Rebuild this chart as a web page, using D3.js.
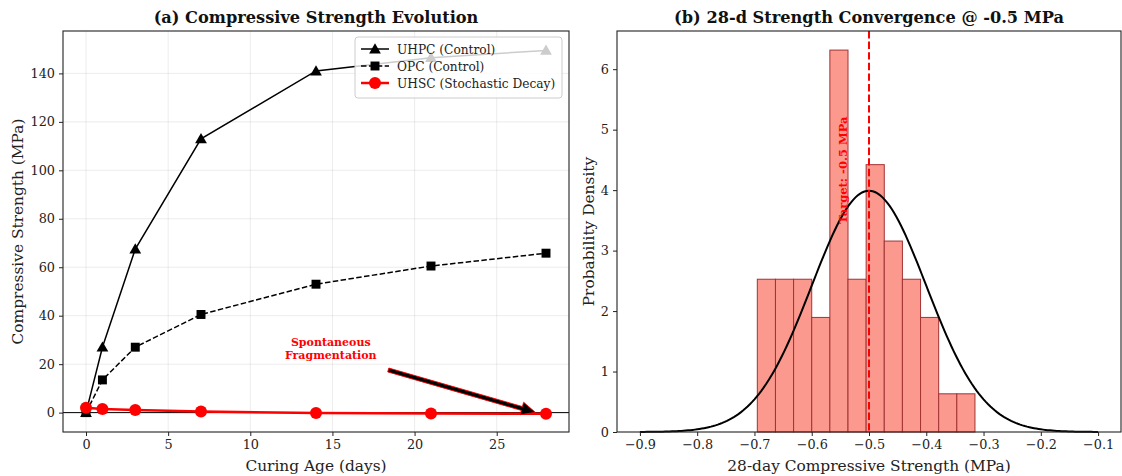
<!DOCTYPE html>
<html>
<head>
<meta charset="utf-8">
<script src="https://cdn.jsdelivr.net/npm/d3@7"></script>
<style>
  body { margin: 0; background: #fff; }
  svg { font-family: "DejaVu Serif", serif; }
</style>
</head>
<body>
<svg id="chart" width="1122" height="476"></svg>
<script>
// ---- data ----
const days = [0, 1, 3, 7, 14, 21, 28]
const uhpc = [0, 27, 67.5, 113, 141, 146.5, 149.5]
const opc = [0, 13.5, 27, 40.5, 53, 60.5, 65.8]
const uhsc = [2.0, 1.5, 1.1, 0.5, -0.2, -0.4, -0.5]

const histLow = -0.695
const histHigh = -0.315
const histCounts = [4, 4, 4, 3, 10, 4, 7, 5, 4, 3, 1, 1]
const fitMean = -0.5
const fitSd = 0.1
const targetValue = -0.5

const leftXTicks = [0, 5, 10, 15, 20, 25]
const leftYTicks = [0, 20, 40, 60, 80, 100, 120, 140]
const rightXTicks = [-0.9, -0.8, -0.7, -0.6, -0.5, -0.4, -0.3, -0.2, -0.1]
const rightYTicks = [0, 1, 2, 3, 4, 5, 6]

const svg = d3.select('#chart')
const tickFont = 12.8
const labelFont = 15.4
const titleFont = 16.2

function frame(g, x0, y0, w, h) {
  g.append('rect')
    .attr('x', x0).attr('y', y0).attr('width', w).attr('height', h)
    .attr('fill', 'none').attr('stroke', '#222').attr('stroke-width', 1.1)
}

function axes(g, x, y, xTicks, yTicks, xFmt, yFmt, x0, y0, w, h) {
  g.append('g')
    .attr('transform', `translate(0,${y0 + h})`)
    .call(d3.axisBottom(x).tickValues(xTicks).tickFormat(xFmt).tickSize(4).tickPadding(4))
    .call(s => s.select('.domain').remove())
    .call(s => s.selectAll('text').attr('font-size', tickFont).attr('fill', '#222').attr('font-family', 'DejaVu Serif'))
    .call(s => s.selectAll('line').attr('stroke', '#222'))
  g.append('g')
    .attr('transform', `translate(${x0},0)`)
    .call(d3.axisLeft(y).tickValues(yTicks).tickFormat(yFmt).tickSize(4).tickPadding(4))
    .call(s => s.select('.domain').remove())
    .call(s => s.selectAll('text').attr('font-size', tickFont).attr('fill', '#222').attr('font-family', 'DejaVu Serif'))
    .call(s => s.selectAll('line').attr('stroke', '#222'))
}

const minus = v => d3.format('.1f')(v).replace('-', '\u2212')

// ================= (a) left panel =================
{
  const x0 = 63, y0 = 31, w = 506, h = 401
  const x = d3.scaleLinear().domain([-1.4, 29.4]).range([x0, x0 + w])
  const y = d3.scaleLinear().domain([-8, 157.5]).range([y0 + h, y0])
  const g = svg.append('g')

  // grid
  g.append('g').selectAll('line').data(leftXTicks).join('line')
    .attr('x1', d => x(d)).attr('x2', d => x(d)).attr('y1', y0).attr('y2', y0 + h)
    .attr('stroke', '#b0b0b0').attr('stroke-opacity', 0.3).attr('stroke-width', 0.8)
  g.append('g').selectAll('line').data(leftYTicks).join('line')
    .attr('y1', d => y(d)).attr('y2', d => y(d)).attr('x1', x0).attr('x2', x0 + w)
    .attr('stroke', '#b0b0b0').attr('stroke-opacity', 0.3).attr('stroke-width', 0.8)

  // zero line
  g.append('line').attr('x1', x0).attr('x2', x0 + w).attr('y1', y(0)).attr('y2', y(0))
    .attr('stroke', '#000').attr('stroke-width', 1)

  const line = d3.line().x(d => x(d[0])).y(d => y(d[1]))
  const tri = d3.symbol().type(d3.symbolTriangle).size(60)
  const sq = d3.symbol().type(d3.symbolSquare).size(80)

  // UHPC
  g.append('path').attr('d', line(d3.zip(days, uhpc)))
    .attr('fill', 'none').attr('stroke', '#000').attr('stroke-width', 1.5)
  g.append('g').selectAll('path').data(d3.zip(days, uhpc)).join('path')
    .attr('d', tri).attr('transform', d => `translate(${x(d[0])},${y(d[1]) + 1})`)
    .attr('fill', '#000')

  // OPC
  g.append('path').attr('d', line(d3.zip(days, opc)))
    .attr('fill', 'none').attr('stroke', '#000').attr('stroke-width', 1.5)
    .attr('stroke-dasharray', '5.5,2.4')
  g.append('g').selectAll('path').data(d3.zip(days, opc)).join('path')
    .attr('d', sq).attr('transform', d => `translate(${x(d[0])},${y(d[1])})`)
    .attr('fill', '#000')

  // UHSC
  g.append('path').attr('d', line(d3.zip(days, uhsc)))
    .attr('fill', 'none').attr('stroke', '#ff0000').attr('stroke-width', 2.5)
  g.append('g').selectAll('circle').data(d3.zip(days, uhsc)).join('circle')
    .attr('cx', d => x(d[0])).attr('cy', d => y(d[1])).attr('r', 6)
    .attr('fill', '#ff0000')

  // annotation
  const ann = g.append('text').attr('x', x(14.9)).attr('y', y(27.5))
    .attr('text-anchor', 'middle').attr('font-size', 11).attr('font-weight', 'bold')
    .attr('fill', '#ff0000')
  ann.append('tspan').attr('x', x(14.9)).attr('dy', 0).text('Spontaneous')
  ann.append('tspan').attr('x', x(14.9)).attr('dy', 13).text('Fragmentation')

  const ax1 = x(18.4), ay1 = y(17.6), ax2 = x(27.35), ay2 = y(0.1)
  const ang = Math.atan2(ay2 - ay1, ax2 - ax1)
  const len = Math.hypot(ax2 - ax1, ay2 - ay1)
  const hl = 14, hw = 6.5, sw = 2
  const arrow = g.append('g').attr('transform', `translate(${ax1},${ay1}) rotate(${ang * 180 / Math.PI})`)
  arrow.append('path')
    .attr('d', `M0,${-sw} L${len - hl},${-sw} L${len - hl},${-hw} L${len},0 L${len - hl},${hw} L${len - hl},${sw} L0,${sw} Z`)
    .attr('fill', '#000').attr('stroke', '#ff0000').attr('stroke-width', 0.8)

  // legend
  const lg = g.append('g').attr('transform', 'translate(355,37)')
  lg.append('rect').attr('width', 207).attr('height', 61).attr('rx', 3)
    .attr('fill', '#fff').attr('fill-opacity', 0.8).attr('stroke', '#ccc').attr('stroke-width', 1)
  const items = [
    { label: 'UHPC (Control)', color: '#000', dash: null, sym: 'tri', lw: 1.5 },
    { label: 'OPC (Control)', color: '#000', dash: '5.5,2.4', sym: 'sq', lw: 1.5 },
    { label: 'UHSC (Stochastic Decay)', color: '#ff0000', dash: null, sym: 'circle', lw: 2.5 }
  ]
  items.forEach((it, i) => {
    const yy = 12 + i * 17
    lg.append('line').attr('x1', 6).attr('x2', 34).attr('y1', yy).attr('y2', yy)
      .attr('stroke', it.color).attr('stroke-width', it.lw)
      .attr('stroke-dasharray', it.dash)
    if (it.sym === 'circle') {
      lg.append('circle').attr('cx', 20).attr('cy', yy).attr('r', 6).attr('fill', it.color)
    } else {
      lg.append('path').attr('d', it.sym === 'tri' ? tri() : sq())
        .attr('transform', `translate(20,${yy + (it.sym === 'tri' ? 1 : 0)})`).attr('fill', it.color)
    }
    lg.append('text').attr('x', 42).attr('y', yy + 4.5).attr('font-size', 12.2)
      .attr('fill', '#222').text(it.label)
  })

  frame(g, x0, y0, w, h)
  axes(g, x, y, leftXTicks, leftYTicks, d3.format('d'), d3.format('d'), x0, y0, w, h)

  g.append('text').attr('x', x0 + w / 2).attr('y', 23).attr('text-anchor', 'middle')
    .attr('font-size', titleFont).attr('font-weight', 'bold').attr('fill', '#111')
    .text('(a) Compressive Strength Evolution')
  g.append('text').attr('x', x0 + w / 2).attr('y', 471).attr('text-anchor', 'middle')
    .attr('font-size', labelFont).attr('fill', '#222').text('Curing Age (days)')
  g.append('text').attr('transform', `translate(23,${y0 + h / 2}) rotate(-90)`)
    .attr('text-anchor', 'middle').attr('font-size', labelFont).attr('fill', '#222')
    .text('Compressive Strength (MPa)')
}

// ================= (b) right panel =================
{
  const x0 = 617, y0 = 31, w = 504, h = 401
  const x = d3.scaleLinear().domain([-0.94, -0.06]).range([x0, x0 + w])
  const total = d3.sum(histCounts)
  const bw = (histHigh - histLow) / histCounts.length
  const bins = histCounts.map((c, i) => ({
    x0: histLow + i * bw, x1: histLow + (i + 1) * bw, density: c / (total * bw)
  }))
  const ymax = d3.max(bins, d => d.density) * 1.05
  const y = d3.scaleLinear().domain([0, ymax]).range([y0 + h, y0])
  const g = svg.append('g')

  g.append('g').selectAll('rect').data(bins).join('rect')
    .attr('x', d => x(d.x0)).attr('width', d => x(d.x1) - x(d.x0))
    .attr('y', d => y(d.density)).attr('height', d => y(0) - y(d.density))
    .attr('fill', '#fb998e').attr('stroke', '#a23333').attr('stroke-width', 1)

  const pdf = v => Math.exp(-0.5 * ((v - fitMean) / fitSd) ** 2) / (fitSd * Math.sqrt(2 * Math.PI))
  const xs = d3.range(0, 201).map(i => -0.9 + i * 0.004)
  g.append('path')
    .attr('d', d3.line().x(d => x(d)).y(d => y(pdf(d)))(xs))
    .attr('fill', 'none').attr('stroke', '#000').attr('stroke-width', 2)

  g.append('line').attr('x1', x(targetValue)).attr('x2', x(targetValue))
    .attr('y1', y0).attr('y2', y0 + h)
    .attr('stroke', '#ff0000').attr('stroke-width', 2).attr('stroke-dasharray', '7.4,3.2')

  g.append('text')
    .attr('transform', `translate(${x(-0.538)},${y(4.33)}) rotate(-90)`)
    .attr('text-anchor', 'middle').attr('font-size', 11.5).attr('font-weight', 'bold')
    .attr('fill', '#ff0000').text('Target: -0.5 MPa')

  frame(g, x0, y0, w, h)
  axes(g, x, y, rightXTicks, rightYTicks, minus, d3.format('d'), x0, y0, w, h)

  g.append('text').attr('x', x0 + w / 2).attr('y', 23).attr('text-anchor', 'middle')
    .attr('font-size', titleFont).attr('font-weight', 'bold').attr('fill', '#111')
    .text('(b) 28-d Strength Convergence @ -0.5 MPa')
  g.append('text').attr('x', x0 + w / 2).attr('y', 471).attr('text-anchor', 'middle')
    .attr('font-size', labelFont).attr('fill', '#222').text('28-day Compressive Strength (MPa)')
  g.append('text').attr('transform', `translate(594,${y0 + h / 2}) rotate(-90)`)
    .attr('text-anchor', 'middle').attr('font-size', labelFont).attr('fill', '#222')
    .text('Probability Density')
}
</script>
</body>
</html>
